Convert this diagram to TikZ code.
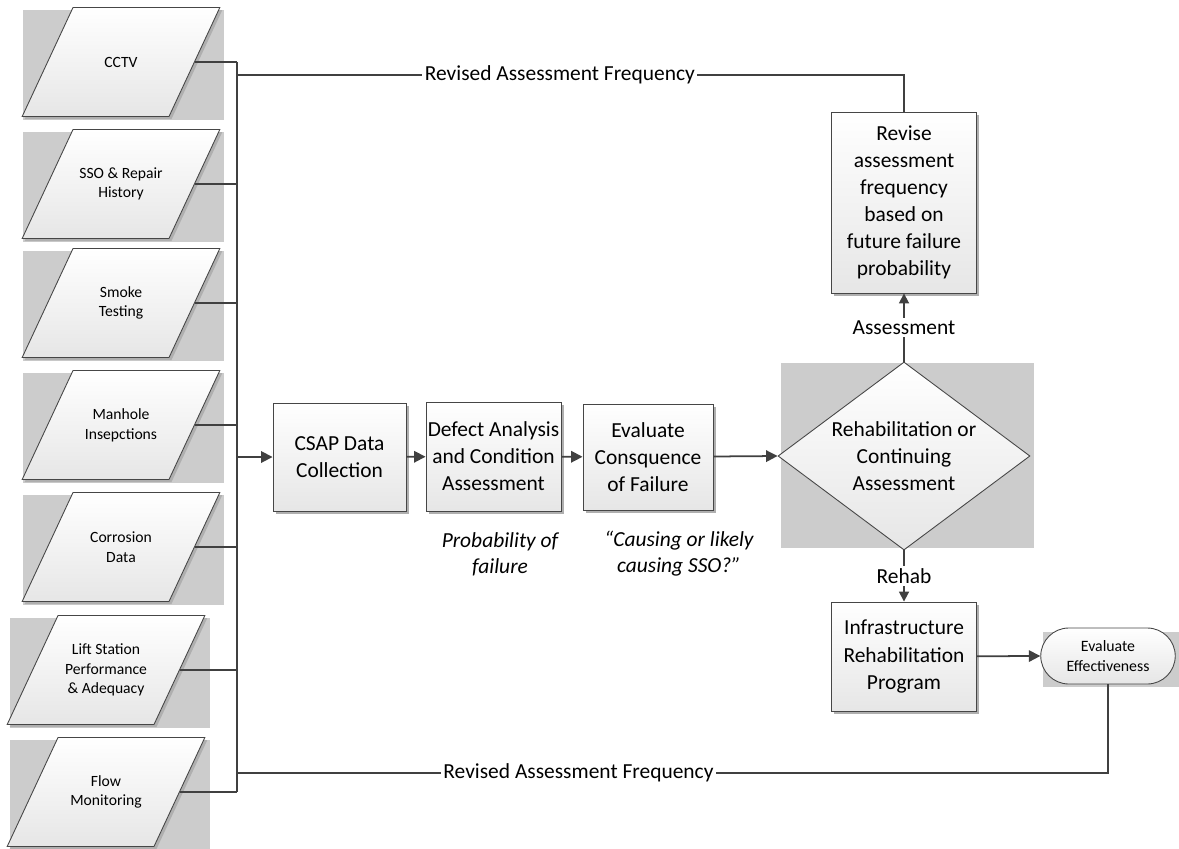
\documentclass[tikz,border=0pt]{standalone}
\usepackage{fontspec}
\setmainfont{Carlito}
\usetikzlibrary{arrows.meta,shapes.geometric,shapes.misc,shadows,backgrounds,calc}
\definecolor{cgline}{RGB}{64,64,64}
\definecolor{cgborder}{RGB}{70,70,70}
\definecolor{cgback}{RGB}{204,204,204}
\definecolor{cgshadow}{RGB}{175,175,175}
\definecolor{cgfill}{RGB}{230,230,230}
\newcommand\datatext[1]{\parbox[c][21.8mm][c]{19.2mm}{\centering #1}}

\begin{document}
\begin{tikzpicture}[x=0.2mm, y=-0.2mm,
  procbox/.style={draw=cgborder, line width=0.5pt, top color=white, bottom color=cgfill,
               font=\fontsize{12.2}{15.4}\selectfont, align=center, inner sep=1pt,
               drop shadow={shadow xshift=0.5mm, shadow yshift=-0.5mm, fill=cgshadow, opacity=1}},
  datanode/.style={trapezium, trapezium left angle=65, trapezium right angle=115,
               inner sep=0pt, draw=cgborder, line width=0.5pt, top color=white, bottom color=cgfill,
               font=\fontsize{8.9}{11.2}\selectfont,
               drop shadow={shadow xshift=0.5mm, shadow yshift=-0.5mm, fill=cgshadow, opacity=1}},
  decision/.style={diamond, aspect=1.34, minimum width=50.4mm, minimum height=37.6mm, inner sep=0pt,
               draw=cgborder, line width=0.5pt, top color=white, bottom color=cgfill,
               font=\fontsize{12.2}{15.4}\selectfont, align=center},
  term/.style={rounded rectangle, minimum width=27.6mm, minimum height=11.2mm, inner sep=1pt,
               draw=cgborder, line width=0.5pt, top color=white, bottom color=cgfill,
               font=\fontsize{9}{11.2}\selectfont, align=center},
  note/.style={font=\fontsize{12.2}{14.8}\selectfont\itshape, align=center},
  lbl/.style={fill=white, text=black, inner sep=1.5pt, font=\fontsize{12.2}{14}\selectfont},
  conn/.style={cgline, line width=1pt},
  bus/.style={cgline, line width=1.4pt},
  arr/.style={-{Triangle[length=2.3mm, width=2.3mm]}, cgline, line width=1pt},
  sarr/.style={-{Triangle[length=2mm, width=2mm]}, cgline, line width=1pt}]
\useasboundingbox (0,0) rectangle (1179,848);

% data sources
\node[datanode] (cctv) at (121,62) {\datatext{CCTV}};
\node[datanode] (sso) at (121,184) {\datatext{SSO \& Repair\\History}};
\node[datanode] (smoke) at (121,303) {\datatext{Smoke\\Testing}};
\node[datanode] (manhole) at (121,425) {\datatext{Manhole\\Insepctions}};
\node[datanode] (corrosion) at (121,547) {\datatext{Corrosion\\Data}};
\node[datanode] (lift) at (106,670) {\datatext{Lift Station\\Performance\\\& Adequacy}};
\node[datanode] (flow) at (106,792) {\datatext{Flow\\Monitoring}};

% main process
\node[procbox, minimum width=26.6mm, minimum height=21.6mm] (csap) at (339.5,457) {CSAP Data\\Collection};
\node[procbox, minimum width=27mm, minimum height=21.8mm] (defect) at (493.5,456.5) {Defect Analysis\\and Condition\\Assessment};
\node[procbox, minimum width=26mm, minimum height=21.2mm] (conseq) at (648,457) {Evaluate\\Consquence\\of Failure};
\node[decision] (decide) at (904,456) {Rehabilitation or\\Continuing\\Assessment};
\node[procbox, minimum width=29mm, minimum height=36.2mm] (revise) at (904,202.5) {Revise\\assessment\\frequency\\based on\\future failure\\probability};
\node[procbox, minimum width=29mm, minimum height=21.8mm] (infra) at (904,656.5) {Infrastructure\\Rehabilitation\\Program};
\node[term] (effect) at (1108,656) {Evaluate\\Effectiveness};

\node[note] (pfail) at (500,554) {Probability of\\failure};
\node[note] (cfail) at (679,554) {“Causing or likely\\causing SSO?”};

% collector bus
\coordinate (busx) at (237,457);
\draw[bus] (cctv.east -| busx) -- (flow.east -| busx);
\draw[conn] (cctv.east) -- (cctv.east -| busx);
\draw[conn] (sso.east) -- (sso.east -| busx);
\draw[conn] (smoke.east) -- (smoke.east -| busx);
\draw[conn] (manhole.east) -- (manhole.east -| busx);
\draw[conn] (corrosion.east) -- (corrosion.east -| busx);
\draw[conn] (lift.east) -- (lift.east -| busx);
\draw[conn] (flow.east) -- (flow.east -| busx);

\draw[arr] (busx) -- (csap.west);
\draw[arr] (csap) -- (defect);
\draw[arr] (defect) -- (conseq);
\draw[arr] (conseq) -- (decide.west);
\draw[sarr] (decide.north) -- node[lbl] {Assessment} (revise.south);
\draw[sarr] (decide.south) -- node[lbl] {Rehab} (infra.north);
\draw[arr] (infra) -- (effect.west);

% feedback loops
\coordinate (fbtop) at (904,75);
\coordinate (fbbot) at (1108,773);
\draw[conn] (revise.north) -- (fbtop) -- node[lbl, pos=0.516] {Revised Assessment Frequency} (fbtop -| busx);
\draw[conn] (effect.south) -- (fbbot) -- node[lbl, pos=0.608] {Revised Assessment Frequency} (fbbot -| busx);

% grey backdrops
\begin{scope}[on background layer]
\fill[cgback] ($(cctv.bottom left corner |- cctv.top right corner)+(2,3)$) rectangle ($(cctv.top right corner |- cctv.bottom left corner)+(3,3)$);
\fill[cgback] ($(sso.bottom left corner |- sso.top right corner)+(2,3)$) rectangle ($(sso.top right corner |- sso.bottom left corner)+(3,3)$);
\fill[cgback] ($(smoke.bottom left corner |- smoke.top right corner)+(2,3)$) rectangle ($(smoke.top right corner |- smoke.bottom left corner)+(3,3)$);
\fill[cgback] ($(manhole.bottom left corner |- manhole.top right corner)+(2,3)$) rectangle ($(manhole.top right corner |- manhole.bottom left corner)+(3,3)$);
\fill[cgback] ($(corrosion.bottom left corner |- corrosion.top right corner)+(2,3)$) rectangle ($(corrosion.top right corner |- corrosion.bottom left corner)+(3,3)$);
\fill[cgback] ($(lift.bottom left corner |- lift.top right corner)+(4,3)$) rectangle ($(lift.top right corner |- lift.bottom left corner)+(4,3)$);
\fill[cgback] ($(flow.bottom left corner |- flow.top right corner)+(4,3)$) rectangle ($(flow.top right corner |- flow.bottom left corner)+(4,3)$);
\fill[cgback] ($(decide.west |- decide.north)+(3,1)$) rectangle ($(decide.east |- decide.south)+(4,-2)$);
\fill[cgback] ($(effect.west |- effect.north)+(3,4)$) rectangle ($(effect.east |- effect.south)+(4,3)$);
\end{scope}
\end{tikzpicture}
\end{document}
